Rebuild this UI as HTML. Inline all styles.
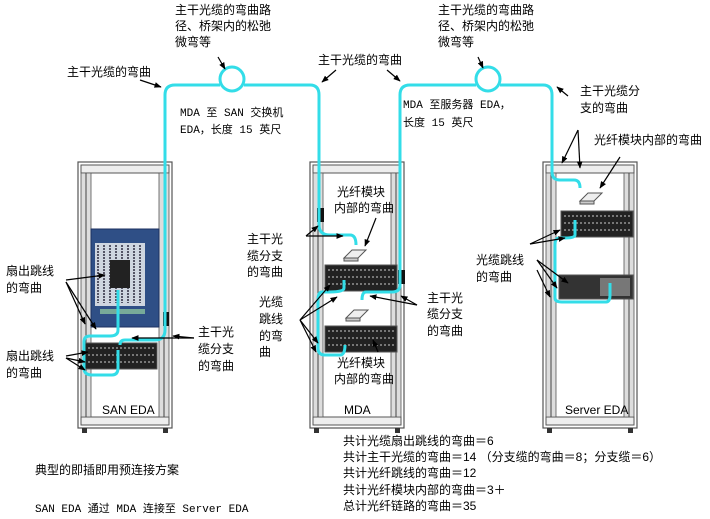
<!DOCTYPE html>
<html><head><meta charset="utf-8"><style>
body{margin:0;background:#fff}
svg{display:block}
text{font-family:"Liberation Sans","Noto Sans CJK SC",sans-serif;font-size:12px;fill:#000}
.m{font-family:"Liberation Mono","Noto Sans CJK SC",monospace;font-size:11px}
</style></head><body>
<svg width="710" height="519" viewBox="0 0 710 519">
<defs>
<marker id="a" viewBox="0 0 10 10" refX="9" refY="5" markerWidth="6" markerHeight="6" orient="auto"><path d="M0,1 L10,5 L0,9 z" fill="#000"/></marker>
<g id="rack">
<rect x="0" y="0" width="94" height="266" fill="#fff" stroke="#555" stroke-width="1.2"/>
<rect x="3" y="3" width="88" height="8" fill="#eee" stroke="#555"/>
<rect x="3" y="255" width="88" height="8" fill="#eee" stroke="#555"/>
<rect x="3" y="11" width="10" height="244" fill="#ddd" stroke="#555" stroke-width="0.8"/>
<rect x="81" y="11" width="10" height="244" fill="#ddd" stroke="#555" stroke-width="0.8"/>
<line x1="8" y1="11" x2="8" y2="255" stroke="#444"/>
<line x1="86" y1="11" x2="86" y2="255" stroke="#444"/>
<rect x="4" y="266" width="5" height="5" fill="#333"/><rect x="85" y="266" width="5" height="5" fill="#333"/>
</g>
<g id="panel">
<rect x="0" y="0" width="72" height="26" fill="#222" stroke="#555"/>
<path d="M3,5 h66 M3,12 h66 M3,19 h66" stroke="#ccc" stroke-dasharray="2,2"/>
</g>
<g id="mod"><path d="M0,8 l8,-8 h14 l-8,8 z" fill="#eee" stroke="#555"/><path d="M0,8 h14 v3 h-14z" fill="#ccc" stroke="#555"/></g>
</defs>

<use href="#rack" x="78" y="162"/>
<use href="#rack" x="310" y="162"/>
<use href="#rack" x="543" y="162"/>
<text x="102" y="414">SAN EDA</text>
<text x="344" y="414">MDA</text>
<text x="565" y="414">Server EDA</text>

<rect x="91" y="229" width="68" height="98" fill="#2f4f86" stroke="#1c3160"/>
<rect x="95" y="243" width="50" height="63" fill="#cfd6e0"/>
<path d="M98,245 v58 M104,245 v58 M110,245 v58 M116,245 v58 M122,245 v58 M128,245 v58 M134,245 v58 M140,245 v58" stroke="#556" stroke-width="2" stroke-dasharray="2,1"/>
<rect x="100" y="309" width="45" height="5" fill="#7a9"/>
<rect x="110" y="260" width="20" height="28" fill="#222"/>
<use href="#panel" x="85" y="343"/>
<rect x="163" y="312" width="6" height="14" fill="#111"/>

<use href="#panel" x="325" y="265"/>
<use href="#panel" x="325" y="326"/>
<use href="#mod" x="344" y="250"/>
<use href="#mod" x="346" y="310"/>
<rect x="317" y="208" width="7" height="14" fill="#111"/>
<rect x="398" y="270" width="7" height="14" fill="#111"/>
<text x="337" y="196">光纤模块</text>
<text x="334" y="212">内部的弯曲</text>
<text x="337" y="367">光纤模块</text>
<text x="334" y="383">内部的弯曲</text>

<use href="#panel" x="561" y="211"/>
<use href="#mod" x="580" y="193"/>
<rect x="559" y="275" width="74" height="24" fill="#333" stroke="#555"/>
<rect x="600" y="278" width="30" height="18" fill="#777"/>

<g fill="none" stroke="#33dde8" stroke-width="3">
<path d="M165,330 V95 Q165,85 175,85 H220 M244,85 H310 Q319,85 319,95 V225 Q319,235 330,235 H350 Q356,235 356,245"/>
<circle cx="232" cy="79" r="12"/>
<path d="M165,330 Q165,340 155,340 H125 Q120,340 120,345"/>
<path d="M118,290 V330 Q118,336 110,336 H90 Q84,336 84,342 V368 Q84,375 92,375 H112 Q118,375 118,368 V350"/>
<path d="M400,285 V95 Q400,85 410,85 H476 M500,85 H543 Q552,85 552,95 V172 Q552,180 560,180 H574 Q580,180 580,188"/>
<circle cx="488" cy="79" r="12"/>
<path d="M400,285 Q400,292 392,292 H366 Q362,292 362,300"/>
<path d="M344,280 V288 Q344,292 330,292 H322 Q318,292 318,300 V348 Q318,355 325,355 H340 Q345,355 345,345"/>
<path d="M575,220 V235 Q575,238 565,238 H559 Q555,238 555,245 V298 Q555,302 562,302 H606 Q610,302 610,295 V283"/>
</g>

<g stroke="#000" stroke-width="1.2" marker-end="url(#a)">
<line x1="140" y1="80" x2="161" y2="87"/>
<line x1="218" y1="57" x2="225" y2="69"/>
<line x1="336" y1="70" x2="322" y2="82"/>
<line x1="387" y1="70" x2="400" y2="81"/>
<line x1="478" y1="57" x2="483" y2="68"/>
<line x1="568" y1="96" x2="557" y2="87"/>
<line x1="578" y1="130" x2="562" y2="163"/>
<line x1="578" y1="130" x2="580" y2="168"/>
<line x1="620" y1="157" x2="600" y2="188"/>
<line x1="530" y1="244" x2="560" y2="230"/>
<line x1="530" y1="244" x2="565" y2="238"/>
<line x1="537" y1="260" x2="568" y2="283"/>
<line x1="537" y1="260" x2="557" y2="288"/>
<line x1="537" y1="270" x2="550" y2="297"/>
<line x1="66" y1="280" x2="105" y2="275"/>
<line x1="66" y1="282" x2="96" y2="329"/>
<line x1="66" y1="282" x2="85" y2="324"/>
<line x1="66" y1="358" x2="85" y2="362"/>
<line x1="66" y1="356" x2="88" y2="352"/>
<line x1="66" y1="358" x2="85" y2="370"/>
<line x1="194" y1="338" x2="173" y2="336"/>
<line x1="194" y1="338" x2="132" y2="338"/>
<line x1="306" y1="236" x2="343" y2="236"/>
<line x1="306" y1="236" x2="318" y2="226"/>
<line x1="376" y1="218" x2="365" y2="246"/>
<line x1="300" y1="320" x2="330" y2="285"/>
<line x1="300" y1="320" x2="337" y2="297"/>
<line x1="300" y1="320" x2="318" y2="343"/>
<line x1="300" y1="320" x2="316" y2="352"/>
<line x1="417" y1="305" x2="370" y2="296"/>
<line x1="417" y1="305" x2="401" y2="296"/>
<line x1="378" y1="352" x2="373" y2="340"/>
</g>

<text x="175" y="14">主干光缆的弯曲路</text>
<text x="175" y="30">径、桥架内的松弛</text>
<text x="175" y="46">微弯等</text>
<text x="67" y="76">主干光缆的弯曲</text>
<text x="318" y="64">主干光缆的弯曲</text>
<text x="438" y="14">主干光缆的弯曲路</text>
<text x="438" y="30">径、桥架内的松弛</text>
<text x="438" y="46">微弯等</text>
<text class="m" x="180" y="116">MDA 至 SAN 交换机</text>
<text class="m" x="180" y="133">EDA，长度 15 英尺</text>
<text class="m" x="403" y="108">MDA 至服务器 EDA，</text>
<text class="m" x="403" y="126">长度 15 英尺</text>
<text x="580" y="95">主干光缆分</text>
<text x="580" y="112">支的弯曲</text>
<text x="594" y="144">光纤模块内部的弯曲</text>
<text x="476" y="264">光缆跳线</text>
<text x="476" y="281">的弯曲</text>
<text x="6" y="275">扇出跳线</text>
<text x="6" y="292">的弯曲</text>
<text x="6" y="360">扇出跳线</text>
<text x="6" y="377">的弯曲</text>
<text x="198" y="336">主干光</text>
<text x="198" y="353">缆分支</text>
<text x="198" y="370">的弯曲</text>
<text x="247" y="243">主干光</text>
<text x="247" y="260">缆分支</text>
<text x="247" y="276">的弯曲</text>
<text x="259" y="306">光缆</text>
<text x="259" y="323">跳线</text>
<text x="259" y="340">的弯</text>
<text x="259" y="356">曲</text>
<text x="427" y="302">主干光</text>
<text x="427" y="318">缆分支</text>
<text x="427" y="335">的弯曲</text>
<text x="343" y="445" font-size="11">共计光缆扇出跳线的弯曲＝6</text>
<text x="343" y="461" font-size="11">共计主干光缆的弯曲＝14 （分支缆的弯曲＝8；分支缆＝6）</text>
<text x="343" y="477" font-size="11">共计光纤跳线的弯曲＝12</text>
<text x="343" y="494" font-size="11">共计光纤模块内部的弯曲＝3＋</text>
<text x="343" y="510" font-size="11">总计光纤链路的弯曲＝35</text>
<text x="35" y="474">典型的即插即用预连接方案</text>
<text class="m" x="35" y="512">SAN EDA 通过 MDA 连接至 Server EDA</text>
</svg>
</body></html>
